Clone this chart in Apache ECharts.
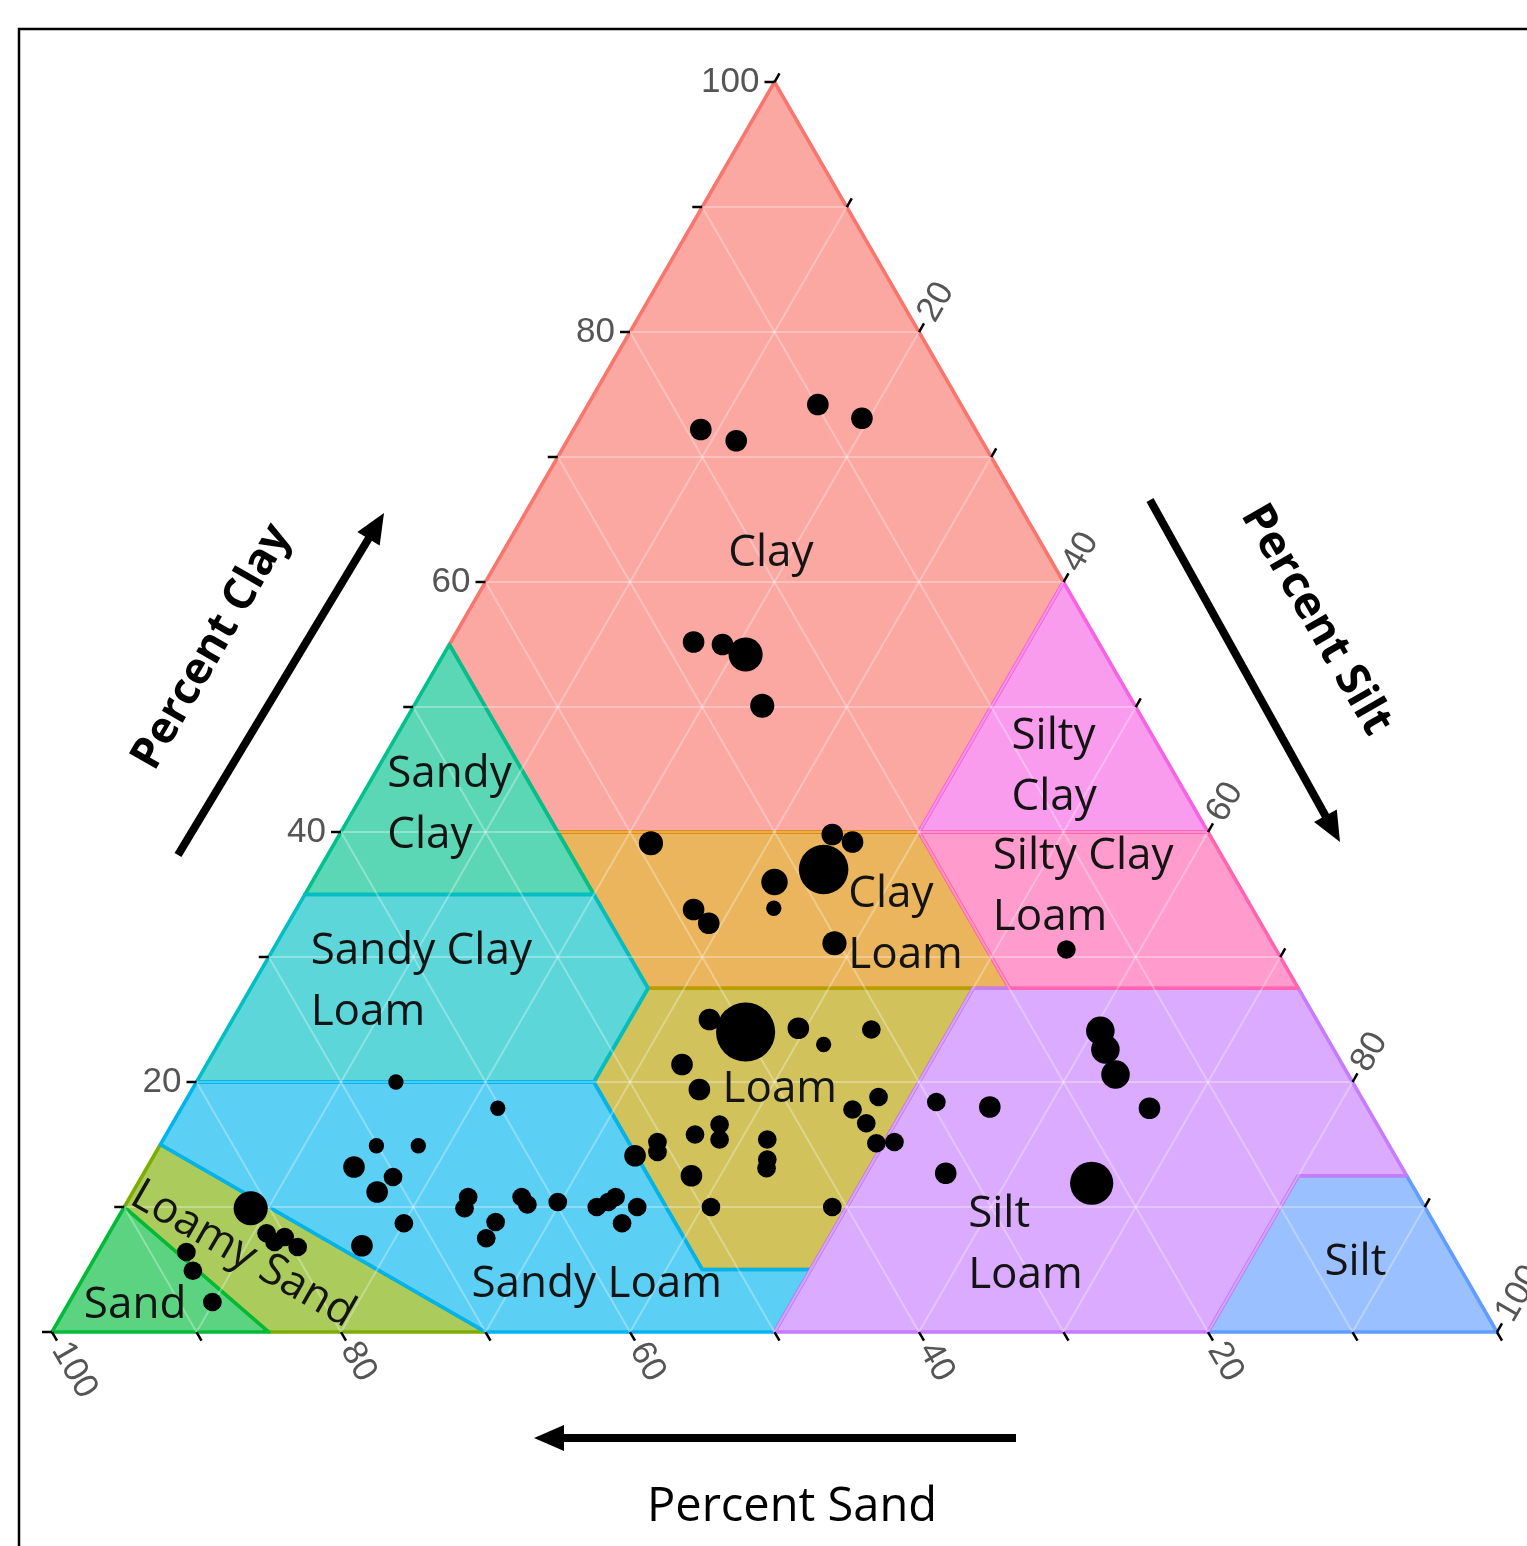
<!DOCTYPE html>
<html>
<head>
<meta charset="utf-8">
<title>Soil texture triangle</title>
<script src="https://cdn.jsdelivr.net/npm/echarts/dist/echarts.min.js"></script>
<style>
  html, body { margin: 0; padding: 0; background: #ffffff; }
  #chart { width: 1527px; height: 1546px; }
</style>
</head>
<body>
<div id="chart"></div>
<script>
// ---- Sample compositions (percent of fine earth), one entry per plotted site ----
const sampleClay = [72.2, 71.3, 74.2, 73.1, 55.2, 55.0, 54.2, 50.1, 39.1, 39.8,
  39.2, 37.0, 36.0, 33.9, 33.8, 32.7, 31.1, 25.0, 24.0, 24.3,
  23.0, 24.2, 21.4, 19.4, 18.8, 17.8, 16.7, 15.1, 15.2, 14.1,
  15.2, 14.4, 15.8, 16.6, 15.4, 12.5, 15.4, 13.8, 13.1, 10.0,
  10.0, 20.0, 17.9, 14.9, 14.9, 13.2, 12.4, 11.2, 8.7, 6.9,
  10.8, 9.9, 8.8, 7.5, 10.8, 10.2, 10.4, 10.0, 10.4, 10.8,
  10.0, 8.7, 9.9, 7.9, 7.2, 7.6, 6.8, 6.4, 4.9, 2.4,
  30.6, 24.1, 22.6, 20.6, 18.4, 18.0, 17.9, 12.7, 11.9];
const sampleSilt = [8.8, 11.7, 15.9, 19.5, 16.8, 18.9, 20.9, 24.1, 21.9, 34.1,
  35.8, 34.9, 32.0, 33.0, 27.5, 29.1, 38.6, 33.0, 36.0, 39.5,
  41.9, 44.6, 32.9, 35.1, 47.8, 46.5, 48.0, 49.5, 50.7, 33.3,
  34.3, 34.7, 36.6, 37.9, 38.5, 38.0, 41.8, 42.6, 42.9, 40.6,
  49.0, 13.8, 21.9, 15.0, 17.9, 14.3, 17.4, 16.9, 20.0, 18.0,
  23.4, 23.6, 26.3, 26.3, 27.1, 27.8, 29.8, 32.7, 33.3, 33.6,
  35.5, 35.1, 8.8, 10.9, 11.8, 12.3, 13.6, 6.1, 7.3, 9.9,
  54.9, 60.5, 61.6, 63.3, 52.0, 55.9, 67.0, 55.5, 66.0];
const sampleSand = [19.0, 17.0, 9.9, 7.4, 28.0, 26.1, 24.9, 25.8, 39.0, 26.1,
  25.0, 28.1, 32.0, 33.1, 38.7, 38.2, 30.3, 42.0, 40.0, 36.2,
  35.1, 31.2, 45.7, 45.5, 33.4, 35.7, 35.3, 35.4, 34.1, 52.6,
  50.5, 50.9, 47.6, 45.5, 46.1, 49.5, 42.8, 43.6, 44.0, 49.4,
  41.0, 66.2, 60.2, 70.1, 67.2, 72.5, 70.2, 71.9, 71.3, 75.1,
  65.8, 66.5, 64.9, 66.2, 62.1, 62.0, 59.8, 57.3, 56.3, 55.6,
  54.5, 56.2, 81.3, 81.2, 81.0, 80.1, 79.6, 87.5, 87.8, 87.7,
  14.5, 15.4, 15.8, 16.1, 29.6, 26.1, 15.1, 31.8, 22.1];
// number of samples sharing each composition (drives marker area)
const sampleCount = [4, 4, 4, 4, 4, 4, 10, 5, 5, 4,
  4, 21, 6, 2, 4, 4, 5, 4, 30, 4,
  2, 3, 4, 4, 3, 3, 3, 3, 3, 4,
  3, 3, 3, 3, 3, 4, 3, 3, 3, 3,
  3, 2, 2, 2, 2, 4, 3, 4, 3, 4,
  3, 3, 3, 3, 3, 3, 3, 3, 3, 3,
  3, 3, 10, 3, 3, 3, 3, 3, 3, 3,
  3, 7, 7, 7, 3, 4, 4, 4, 16];

// ---- USDA texture classes, vertices as [sand, silt, clay] ----
const classNames = ['Clay', 'Clay Loam', 'Loam', 'Loamy Sand', 'Sand', 'Sandy Clay',
  'Sandy Clay Loam', 'Sandy Loam', 'Silt', 'Silt Loam', 'Silty Clay', 'Silty Clay Loam'];
const classVertices = [
  [[0, 0, 100], [0, 40, 60], [20, 40, 40], [45, 15, 40], [45, 0, 55]],
  [[45, 15, 40], [20, 40, 40], [20, 52.5, 27.5], [45, 27.5, 27.5], [45, 20, 35]],
  [[45, 27.5, 27.5], [22.5, 50, 27.5], [45, 50, 5], [52.5, 42.5, 5], [52.5, 27.5, 20]],
  [[85, 0, 15], [70, 30, 0], [85, 15, 0], [90, 0, 10]],
  [[90, 0, 10], [85, 15, 0], [100, 0, 0]],
  [[45, 0, 55], [45, 15, 40], [45, 20, 35], [65, 0, 35]],
  [[65, 0, 35], [45, 20, 35], [45, 27.5, 27.5], [52.5, 27.5, 20], [80, 0, 20]],
  [[80, 0, 20], [52.5, 27.5, 20], [52.5, 42.5, 5], [45, 50, 5], [50, 50, 0], [70, 30, 0], [85, 0, 15]],
  [[7.5, 80, 12.5], [0, 87.5, 12.5], [0, 100, 0], [20, 80, 0]],
  [[22.5, 50, 27.5], [0, 72.5, 27.5], [0, 87.5, 12.5], [7.5, 80, 12.5], [20, 80, 0], [50, 50, 0], [45, 50, 5]],
  [[0, 40, 60], [0, 60, 40], [20, 40, 40]],
  [[20, 40, 40], [0, 60, 40], [0, 72.5, 27.5], [20, 52.5, 27.5]]
];

// ---- Axis ticks ----
const tickValues = [0, 10, 20, 30, 40, 50, 60, 70, 80, 90, 100];
const labelledTicks = [20, 40, 60, 80, 100];
const gridLevels = [10, 20, 30, 40, 50, 60, 70, 80, 90];

// ---- Styling ----
const classColors = ['#F8766D', '#DE8C00', '#B79F00', '#7CAE00', '#00BA38', '#00C08B',
  '#00BFC4', '#00B4F0', '#619CFF', '#C77CFF', '#F564E3', '#FF64B0'];
const fillAlpha = 0.64;

// class name placement, anchored at a [sand, silt, clay] point
const classLabelLayout = [
  { text: 'Clay', at: [19.1, 18.6, 62.3], align: 'center' },
  { text: 'Sandy\nClay', at: [55.7, 2.1, 42.2], align: 'left' },
  { text: 'Sandy Clay\nLoam', at: [68.1, 3.9, 28.0], align: 'left' },
  { text: 'Silty\nClay', at: [11.0, 43.8, 45.2], align: 'left' },
  { text: 'Silty Clay\nLoam', at: [17.1, 47.3, 35.6], align: 'left' },
  { text: 'Clay\nLoam', at: [28.6, 38.8, 32.6], align: 'left' },
  { text: 'Loam', at: [43.9, 36.7, 19.4], align: 'left' },
  { text: 'Sandy Loam', at: [60.4, 35.8, 3.8], align: 'center' },
  { text: 'Silt\nLoam', at: [33.1, 59.9, 7.0], align: 'left' },
  { text: 'Silt', at: [7.0, 87.4, 5.6], align: 'center' },
  { text: 'Sand', at: [93.2, 4.7, 2.1], align: 'center' },
  { text: 'Loamy Sand', at: [83.7, 10.1, 6.2], align: 'center', rotate: -Math.PI / 6 }
];

const SQ = Math.sqrt(3) / 2;
// ternary composition -> cartesian (x along the silt side, y up to the clay apex)
function tern(sand, silt, clay) { return [silt + clay / 2, clay * SQ]; }
function hexA(hex, a) {
  const n = parseInt(hex.slice(1), 16);
  return 'rgba(' + (n >> 16) + ',' + ((n >> 8) & 255) + ',' + (n & 255) + ',' + a + ')';
}

function arrow(x0, y0, x1, y1) {
  const dx = x1 - x0, dy = y1 - y0, len = Math.hypot(dx, dy);
  const ux = dx / len, uy = dy / len, hl = 30, hw = 13;
  const bx = x1 - ux * hl, by = y1 - uy * hl;
  return [
    { type: 'line', silent: true, shape: { x1: x0, y1: y0, x2: bx + ux * 4, y2: by + uy * 4 },
      style: { stroke: '#000', lineWidth: 8 } },
    { type: 'polygon', silent: true,
      shape: { points: [[x1, y1], [bx - uy * hw, by + ux * hw], [bx + uy * hw, by - ux * hw]] },
      style: { fill: '#000' } }
  ];
}

const chart = echarts.init(document.getElementById('chart'), null, { renderer: 'canvas' });

const regionData = classNames.map((n, i) => [i]);
const gridData = [];
[0, 1, 2].forEach(f => gridLevels.forEach(v => gridData.push([f, v])));
const tickData = [];
[0, 1, 2].forEach(a => tickValues.forEach(v => tickData.push([a, v])));
const labelData = classLabelLayout.map((l, i) => [i]);
const pointData = sampleClay.map((c, i) => {
  const p = tern(sampleSand[i], sampleSilt[i], c);
  return [p[0], p[1], sampleCount[i]];
});

const labelFont = { fontFamily: '"Open Sans", "Noto Sans", sans-serif', fontSize: 44, fill: '#141414' };

chart.setOption({
  animation: false,
  backgroundColor: '#ffffff',
  grid: { left: 52, top: 82, width: 1445, height: 1250 },
  xAxis: { type: 'value', min: 0, max: 100, show: false },
  yAxis: { type: 'value', min: 0, max: 100 * SQ, show: false },
  tooltip: { show: false },
  series: [
    {
      type: 'custom', coordinateSystem: 'cartesian2d', clip: false, silent: true, z: 1,
      data: regionData,
      renderItem: (params, api) => {
        const i = api.value(0);
        const pts = classVertices[i].map(v => api.coord(tern(v[0], v[1], v[2])));
        return {
          type: 'polygon', shape: { points: pts },
          style: { fill: hexA(classColors[i], fillAlpha), stroke: classColors[i], lineWidth: 3.5, lineJoin: 'round' }
        };
      }
    },
    {
      type: 'custom', coordinateSystem: 'cartesian2d', clip: false, silent: true, z: 2,
      data: gridData,
      renderItem: (params, api) => {
        const f = api.value(0), v = api.value(1);
        let a, b;
        if (f === 0) { a = tern(100 - v, 0, v); b = tern(0, 100 - v, v); }
        else if (f === 1) { a = tern(100 - v, v, 0); b = tern(0, v, 100 - v); }
        else { a = tern(v, 100 - v, 0); b = tern(v, 0, 100 - v); }
        const p = api.coord(a), q = api.coord(b);
        return { type: 'line', shape: { x1: p[0], y1: p[1], x2: q[0], y2: q[1] },
          style: { stroke: 'rgba(255,255,255,0.3)', lineWidth: 2 } };
      }
    },
    {
      type: 'custom', coordinateSystem: 'cartesian2d', clip: false, silent: true, z: 3,
      data: tickData,
      renderItem: (params, api) => {
        const axis = api.value(0), v = api.value(1);
        let base, dir;
        if (axis === 0) { base = api.coord(tern(100 - v, 0, v)); dir = [-1, 0]; }
        else if (axis === 1) { base = api.coord(tern(0, v, 100 - v)); dir = [0.5, -SQ]; }
        else { base = api.coord(tern(v, 100 - v, 0)); dir = [0.5, SQ]; }
        const L = 10;
        const end = [base[0] + dir[0] * L, base[1] + dir[1] * L];
        const children = [{ type: 'line', shape: { x1: base[0], y1: base[1], x2: end[0], y2: end[1] },
          style: { stroke: '#000', lineWidth: 2.5 } }];
        if (labelledTicks.indexOf(v) >= 0) {
          const g = 5;
          children.push({
            type: 'text', x: end[0] + dir[0] * g, y: end[1] + dir[1] * g,
            rotation: axis === 0 ? 0 : (axis === 1 ? Math.PI / 3 : -Math.PI / 3),
            style: { text: String(v), fill: '#555555', fontFamily: '"Liberation Sans", Arial, sans-serif',
              fontSize: 35, align: axis === 0 ? 'right' : 'left', verticalAlign: 'middle' }
          });
        }
        return { type: 'group', children: children };
      }
    },
    {
      type: 'custom', coordinateSystem: 'cartesian2d', clip: false, silent: true, z: 4,
      data: labelData,
      renderItem: (params, api) => {
        const l = classLabelLayout[api.value(0)];
        const p = api.coord(tern(l.at[0], l.at[1], l.at[2]));
        return {
          type: 'text', x: p[0], y: p[1], rotation: l.rotate || 0,
          style: Object.assign({ text: l.text, align: l.align, verticalAlign: 'middle', lineHeight: 61 }, labelFont)
        };
      }
    },
    {
      type: 'scatter', z: 5, silent: true,
      data: pointData,
      symbol: 'circle',
      symbolSize: v => 10.8 * Math.sqrt(v[2]),
      itemStyle: { color: '#000000', opacity: 1 },
      emphasis: { disabled: true }
    }
  ],
  graphic: [
    { type: 'rect', silent: true, shape: { x: 19, y: 29, width: 1700, height: 1700 },
      style: { fill: 'none', stroke: '#000', lineWidth: 2.5 } },
    { type: 'text', x: 212, y: 647, rotation: Math.PI / 3, silent: true,
      style: { text: 'Percent Clay', fontFamily: '"Open Sans", sans-serif', fontWeight: 'bold', fontSize: 44,
        fill: '#000', align: 'center', verticalAlign: 'middle' } },
    { type: 'text', x: 1316, y: 620, rotation: -Math.PI / 3, silent: true,
      style: { text: 'Percent Silt', fontFamily: '"Open Sans", sans-serif', fontWeight: 'bold', fontSize: 45,
        fill: '#000', align: 'center', verticalAlign: 'middle' } },
    { type: 'text', x: 792, y: 1508, silent: true,
      style: { text: 'Percent Sand', fontFamily: '"Open Sans", sans-serif', fontSize: 47,
        fill: '#000', align: 'center', verticalAlign: 'middle' } }
  ].concat(arrow(178, 855, 384, 513), arrow(1150, 500, 1340, 842), arrow(1016, 1438, 534, 1438))
});
</script>
</body>
</html>
